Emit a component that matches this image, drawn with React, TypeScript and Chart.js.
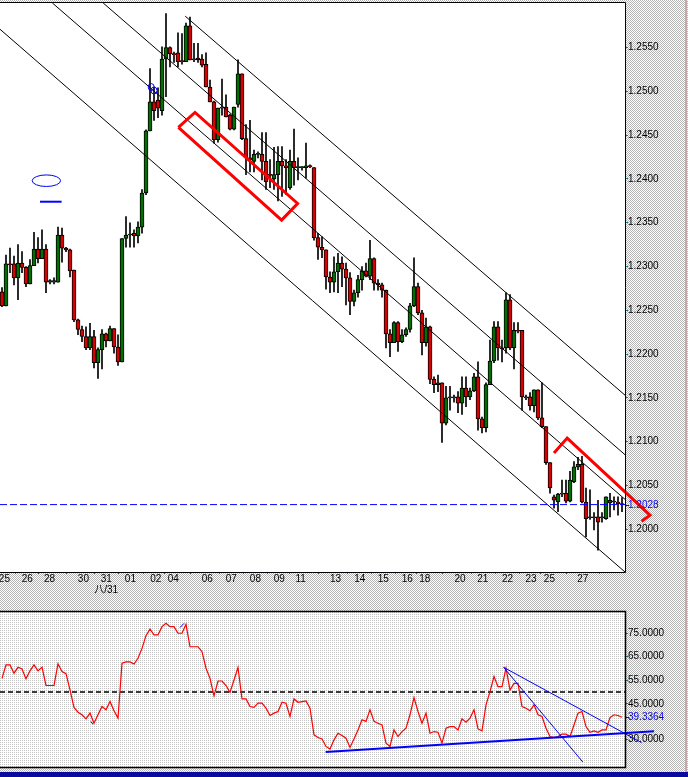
import React, { useEffect, useRef } from 'react';
import { Chart, registerables } from 'chart.js';

Chart.register(...registerables);

// ---------- DATA ----------
const opens = [
  1.2271, 1.2255, 1.2303, 1.2303, 1.2287, 1.2304, 1.2299, 1.2280, 1.2301, 1.2320,
  1.2309, 1.2320, 1.2282, 1.2284, 1.2282, 1.2336, 1.2321, 1.2319, 1.2296, 1.2239,
  1.2228, 1.2220, 1.2207, 1.2220, 1.2190, 1.2205, 1.2223, 1.2215, 1.2229, 1.2208,
  1.2191, 1.2332, 1.2336, 1.2338, 1.2335, 1.2345, 1.2384, 1.2455, 1.2488, 1.2490,
  1.2478, 1.2537, 1.2550, 1.2543, 1.2544, 1.2535, 1.2534, 1.2575, 1.2537, 1.2538,
  1.2537, 1.2531, 1.2505, 1.2488, 1.2445, 1.2482, 1.2482, 1.2473, 1.2457, 1.2485,
  1.2520, 1.2446, 1.2424, 1.2420, 1.2428, 1.2428, 1.2420, 1.2405, 1.2400, 1.2405,
  1.2420, 1.2415, 1.2390, 1.2420, 1.2413, 1.2413, 1.2413, 1.2415, 1.2413, 1.2333,
  1.2322, 1.2319, 1.2288, 1.2282, 1.2294, 1.2304, 1.2297, 1.2287, 1.2260, 1.2270,
  1.2285, 1.2295, 1.2289, 1.2309, 1.2281, 1.2279, 1.2273, 1.2223, 1.2213, 1.2236,
  1.2214, 1.2222, 1.2228, 1.2255, 1.2277, 1.2247, 1.2213, 1.2231, 1.2171, 1.2167,
  1.2167, 1.2121, 1.2151, 1.2151, 1.2151, 1.2144, 1.2161, 1.2151, 1.2158, 1.2174,
  1.2126, 1.2116, 1.2165, 1.2192, 1.2231, 1.2207, 1.2207, 1.2262, 1.2207, 1.2227,
  1.2227, 1.2151, 1.2151, 1.2141, 1.2159, 1.2127, 1.2117, 1.2076, 1.2037, 1.2031,
  1.2040, 1.2041, 1.2032, 1.2054, 1.2071, 1.2074, 1.2031, 1.2014, 1.2014, 1.2014,
  1.2013, 1.2012, 1.2030, 1.2032, 1.2031, 1.2029,
];
const highs = [
  1.2276, 1.2313, 1.2321, 1.2312, 1.2325, 1.2317, 1.2300, 1.2308, 1.2339, 1.2333,
  1.2342, 1.2325, 1.2285, 1.2287, 1.2345, 1.2344, 1.2322, 1.2320, 1.2296, 1.2240,
  1.2232, 1.2231, 1.2235, 1.2227, 1.2207, 1.2228, 1.2224, 1.2232, 1.2229, 1.2222,
  1.2332, 1.2357, 1.2350, 1.2342, 1.2351, 1.2388, 1.2456, 1.2526, 1.2505, 1.2504,
  1.2551, 1.2589, 1.2551, 1.2545, 1.2567, 1.2566, 1.2578, 1.2585, 1.2555, 1.2555,
  1.2542, 1.2544, 1.2513, 1.2489, 1.2481, 1.2514, 1.2496, 1.2474, 1.2482, 1.2536,
  1.2520, 1.2462, 1.2467, 1.2433, 1.2431, 1.2453, 1.2453, 1.2422, 1.2436, 1.2437,
  1.2437, 1.2422, 1.2433, 1.2457, 1.2424, 1.2414, 1.2441, 1.2416, 1.2413, 1.2338,
  1.2334, 1.2319, 1.2294, 1.2311, 1.2315, 1.2311, 1.2304, 1.2293, 1.2273, 1.2290,
  1.2300, 1.2304, 1.2330, 1.2310, 1.2285, 1.2281, 1.2273, 1.2228, 1.2237, 1.2237,
  1.2228, 1.2230, 1.2258, 1.2310, 1.2281, 1.2250, 1.2241, 1.2232, 1.2174, 1.2176,
  1.2167, 1.2163, 1.2163, 1.2153, 1.2157, 1.2174, 1.2174, 1.2161, 1.2178, 1.2191,
  1.2128, 1.2167, 1.2216, 1.2237, 1.2237, 1.2216, 1.2270, 1.2268, 1.2236, 1.2236,
  1.2227, 1.2153, 1.2156, 1.2159, 1.2159, 1.2167, 1.2117, 1.2076, 1.2039, 1.2041,
  1.2056, 1.2056, 1.2066, 1.2077, 1.2082, 1.2083, 1.2047, 1.2045, 1.2019, 1.2033,
  1.2019, 1.2037, 1.2041, 1.2037, 1.2037, 1.2036,
];
const lows = [
  1.2254, 1.2255, 1.2293, 1.2279, 1.2262, 1.2293, 1.2277, 1.2280, 1.2301, 1.2304,
  1.2309, 1.2270, 1.2280, 1.2280, 1.2282, 1.2305, 1.2317, 1.2288, 1.2237, 1.2222,
  1.2214, 1.2205, 1.2205, 1.2184, 1.2172, 1.2183, 1.2208, 1.2215, 1.2201, 1.2187,
  1.2191, 1.2322, 1.2322, 1.2322, 1.2327, 1.2338, 1.2382, 1.2455, 1.2467, 1.2470,
  1.2473, 1.2494, 1.2528, 1.2533, 1.2528, 1.2531, 1.2534, 1.2536, 1.2534, 1.2533,
  1.2528, 1.2505, 1.2488, 1.2441, 1.2442, 1.2473, 1.2471, 1.2456, 1.2456, 1.2482,
  1.2445, 1.2405, 1.2408, 1.2408, 1.2424, 1.2399, 1.2388, 1.2390, 1.2388, 1.2375,
  1.2380, 1.2382, 1.2388, 1.2393, 1.2399, 1.2410, 1.2401, 1.2413, 1.2330, 1.2308,
  1.2310, 1.2274, 1.2270, 1.2271, 1.2270, 1.2277, 1.2256, 1.2245, 1.2255, 1.2265,
  1.2273, 1.2288, 1.2285, 1.2273, 1.2273, 1.2265, 1.2207, 1.2197, 1.2213, 1.2203,
  1.2213, 1.2220, 1.2225, 1.2254, 1.2245, 1.2199, 1.2209, 1.2166, 1.2156, 1.2157,
  1.2099, 1.2119, 1.2136, 1.2145, 1.2133, 1.2131, 1.2140, 1.2148, 1.2157, 1.2113,
  1.2110, 1.2111, 1.2165, 1.2190, 1.2193, 1.2191, 1.2201, 1.2205, 1.2183, 1.2224,
  1.2136, 1.2148, 1.2136, 1.2134, 1.2125, 1.2116, 1.2074, 1.2041, 1.2024, 1.2020,
  1.2037, 1.2030, 1.2031, 1.2053, 1.2068, 1.2030, 1.1991, 1.2011, 1.1999, 1.1976,
  1.2008, 1.2011, 1.2014, 1.2022, 1.2016, 1.2020,
];
const closes = [
  1.2255, 1.2303, 1.2302, 1.2287, 1.2304, 1.2299, 1.2280, 1.2301, 1.2320, 1.2309,
  1.2320, 1.2282, 1.2284, 1.2282, 1.2336, 1.2321, 1.2319, 1.2295, 1.2239, 1.2228,
  1.2220, 1.2207, 1.2220, 1.2190, 1.2205, 1.2223, 1.2215, 1.2229, 1.2208, 1.2191,
  1.2332, 1.2336, 1.2337, 1.2335, 1.2345, 1.2384, 1.2455, 1.2488, 1.2478, 1.2481,
  1.2537, 1.2550, 1.2543, 1.2542, 1.2534, 1.2534, 1.2575, 1.2536, 1.2536, 1.2536,
  1.2530, 1.2505, 1.2488, 1.2445, 1.2481, 1.2481, 1.2471, 1.2457, 1.2482, 1.2520,
  1.2446, 1.2424, 1.2422, 1.2428, 1.2428, 1.2420, 1.2397, 1.2404, 1.2405, 1.2420,
  1.2415, 1.2413, 1.2420, 1.2413, 1.2413, 1.2414, 1.2415, 1.2414, 1.2333, 1.2322,
  1.2319, 1.2288, 1.2282, 1.2294, 1.2304, 1.2297, 1.2287, 1.2260, 1.2270, 1.2285,
  1.2295, 1.2289, 1.2309, 1.2281, 1.2279, 1.2273, 1.2223, 1.2213, 1.2236, 1.2214,
  1.2222, 1.2228, 1.2255, 1.2277, 1.2247, 1.2213, 1.2231, 1.2171, 1.2165, 1.2165,
  1.2121, 1.2150, 1.2150, 1.2150, 1.2144, 1.2161, 1.2151, 1.2158, 1.2174, 1.2126,
  1.2116, 1.2165, 1.2192, 1.2231, 1.2207, 1.2206, 1.2262, 1.2207, 1.2227, 1.2226,
  1.2151, 1.2150, 1.2141, 1.2159, 1.2127, 1.2117, 1.2076, 1.2047, 1.2033, 1.2040,
  1.2041, 1.2032, 1.2056, 1.2071, 1.2074, 1.2031, 1.2012, 1.2013, 1.2013, 1.2008,
  1.2014, 1.2037, 1.2033, 1.2031, 1.2029, 1.2028,
];
const rsiValues = [
  55.8, 61.5, 61.5, 58.0, 60.5, 59.8, 55.6, 59.0, 61.5, 59.0,
  60.6, 52.8, 52.8, 52.8, 62.0, 58.7, 57.8, 50.9, 43.5, 41.5,
  40.4, 38.7, 41.1, 36.8, 40.4, 43.9, 42.5, 46.0, 42.1, 39.0,
  62.2, 62.8, 62.8, 61.9, 64.3, 68.5, 73.9, 76.7, 74.2, 74.2,
  77.7, 79.1, 77.7, 77.7, 74.9, 74.9, 78.7, 69.2, 69.2, 69.2,
  67.1, 60.1, 55.8, 48.4, 54.7, 54.7, 52.8, 49.9, 55.1, 60.4,
  47.1, 47.1, 43.9, 43.5, 45.3, 45.3, 43.2, 40.1, 41.1, 41.8,
  45.7, 45.3, 39.7, 47.1, 45.7, 46.0, 46.3, 43.2, 31.9, 30.8,
  30.2, 27.0, 25.9, 29.8, 32.6, 31.6, 30.5, 26.6, 30.2, 34.0,
  38.3, 37.6, 42.5, 37.6, 36.8, 36.1, 28.4, 27.0, 34.0, 31.2,
  33.3, 34.7, 40.4, 47.7, 41.8, 36.8, 41.1, 32.6, 33.3, 33.0,
  28.4, 34.7, 35.4, 35.4, 34.0, 38.7, 37.3, 39.0, 42.5, 34.4,
  33.6, 44.6, 50.2, 56.6, 52.3, 52.3, 60.1, 50.9, 53.7, 53.7,
  43.9, 43.2, 42.1, 44.6, 40.4, 39.7, 34.7, 31.2, 30.8, 31.2,
  32.2, 32.2, 31.2, 36.1, 41.1, 41.8, 35.4, 33.0, 33.6, 33.0,
  34.0, 34.0, 39.2, 40.4, 40.1, 39.3364,
];
const dateTickIndex = [
  0.6, 6.3, 11.9, 20.35, 26.05, 32.1, 38.45, 42.8, 51.3, 57.3, 63.35, 69.3,
  74.65, 83.4, 89.45, 95.3, 101.3, 105.7, 114.5, 120.2, 126.4, 132.25, 136.85, 145.2,
];
const dateTickLabels: (string | string[])[] = [
  '25', '26', '28', '30', ['31', '八/31'], '01', '02', '04', '06', '07', '08', '09',
  '11', '13', '14', '15', '16', '18', '20', '21', '22', '23', '25', '27',
];
const priceTicks = [1.255, 1.25, 1.245, 1.24, 1.235, 1.23, 1.225, 1.22, 1.215, 1.21, 1.205, 1.2];
const rsiTicks = [75, 65, 55, 45, 30];
const lastPrice = 1.2028;
const lastRsi = 39.3364;
const rsiMidLevel = 50;

// channel lines (index, price)
const channelA = [[45.8, 1.2586], [155.75, 1.2153]];
const channelB = [[25.3, 1.2601], [155.75, 1.2085]];
const channelC = [[12.6, 1.2601], [155.75, 1.2034]];
const channelD = [[-0.5, 1.2571], [155.75, 1.1951]];
// hand-drawn marks (index, price)
const markBox = [[44.1, 1.2459], [48.25, 1.2476], [73.9, 1.2372], [69.9, 1.2353], [44.1, 1.2459]];
const markArrow = [[138.0, 1.2087], [141.3, 1.2104], [162.0, 1.2016], [159.9, 1.2009]];
const markUnderline = [[9.5, 1.2374], [14.9, 1.2374]];
const markEllipse = { center: [11.1, 1.2398], rx: 3.55, ry: 0.00066 };
const markCircles = [[37.3, 1.2505], [38.0, 1.2501]];
// RSI trend lines (index, rsi)
const rsiSupport = [[80.9, 24.6], [163.0, 33.4]];
const rsiDown1 = [[125.4, 60.5], [159.9, 28.6]];
const rsiDown2 = [[125.4, 60.5], [145.2, 20.4]];
const rsiMark1 = [[44.5, 77.3], [45.5, 79.1]];
const rsiMark2 = [[22.2, 37.6], [22.7, 36.4]];

// ---------- STYLE ----------
const FONT = '"Liberation Sans", Arial, "Noto Sans CJK SC", sans-serif';
const GREEN = '#007000';
const RED = '#d80000';
const TEAL = '#008080';
const X_MIN = -0.5;
const X_MAX = 155.75;

const pts = (arr: number[][]) => arr.map(([x, y]) => ({ x, y }));

function makePattern(ctx: CanvasRenderingContext2D, kind: 'checker' | 'dots') {
  const c = document.createElement('canvas');
  c.width = 2;
  c.height = 2;
  const g = c.getContext('2d')!;
  g.fillStyle = '#ffffff';
  g.fillRect(0, 0, 2, 2);
  if (kind === 'checker') {
    g.fillStyle = '#b4b4b4';
    g.fillRect(0, 0, 1, 1);
    g.fillRect(1, 1, 1, 1);
  } else {
    g.fillStyle = '#c4c4c4';
    g.fillRect(0, 0, 1, 1);
  }
  return ctx.createPattern(c, 'repeat')!;
}

const lineDs = (data: number[][], color: string, width: number, order: number, extra: any = {}) => ({
  type: 'line' as const,
  data: pts(data),
  borderColor: color,
  borderWidth: width,
  pointRadius: 0,
  tension: 0,
  fill: false,
  order,
  ...extra,
});

export default function App() {
  const mainRef = useRef<HTMLCanvasElement>(null);
  const rsiRef = useRef<HTMLCanvasElement>(null);

  useEffect(() => {
    const idx = opens.map((_, i) => i);
    const bodyColors = opens.map((o, i) => (closes[i] >= o ? GREEN : RED));

    const mainPlugin = {
      id: 'mainDecor',
      beforeDraw(chart: any) {
        const { ctx, chartArea: a, width, height } = chart;
        ctx.save();
        ctx.fillStyle = makePattern(ctx, 'checker');
        ctx.fillRect(0, 0, width, height);
        ctx.fillStyle = '#ffffff';
        ctx.fillRect(a.left, a.top, a.right - a.left, a.bottom - a.top);
        ctx.restore();
      },
      afterDatasetsDraw(chart: any) {
        const { ctx } = chart;
        const xs = chart.scales.x;
        const ys = chart.scales.y;
        ctx.save();
        ctx.strokeStyle = '#0000ff';
        ctx.lineWidth = 1;
        const cx = xs.getPixelForValue(markEllipse.center[0]);
        const cy = ys.getPixelForValue(markEllipse.center[1]);
        const rx = Math.abs(xs.getPixelForValue(markEllipse.center[0] + markEllipse.rx) - cx);
        const ry = Math.abs(ys.getPixelForValue(markEllipse.center[1] + markEllipse.ry) - cy);
        ctx.beginPath();
        ctx.ellipse(cx, cy, rx, ry, 0, 0, Math.PI * 2);
        ctx.stroke();
        markCircles.forEach(([x, y]) => {
          ctx.beginPath();
          ctx.ellipse(xs.getPixelForValue(x), ys.getPixelForValue(y), 3, 3.5, 0, 0, Math.PI * 2);
          ctx.stroke();
        });
        ctx.restore();
      },
      afterDraw(chart: any) {
        const { ctx, chartArea: a } = chart;
        const ys = chart.scales.y;
        ctx.save();
        ctx.strokeStyle = '#000';
        ctx.lineWidth = 1;
        ctx.beginPath();
        ctx.moveTo(0, a.top - 0.5);
        ctx.lineTo(a.right + 0.5, a.top - 0.5);
        ctx.lineTo(a.right + 0.5, a.bottom + 0.5);
        ctx.lineTo(0, a.bottom + 0.5);
        ctx.stroke();
        const py = Math.round(ys.getPixelForValue(lastPrice)) + 0.5;
        ctx.strokeStyle = '#0000ff';
        ctx.beginPath();
        ctx.moveTo(a.right + 1, py);
        ctx.lineTo(a.right + 4, py);
        ctx.stroke();
        ctx.fillStyle = '#0000ff';
        ctx.font = `10px ${FONT}`;
        ctx.textBaseline = 'middle';
        ctx.textAlign = 'left';
        ctx.fillText(lastPrice.toFixed(4), a.right + 3, py);
        ctx.restore();
      },
    };

    const main = new Chart(mainRef.current!, {
      type: 'bar',
      data: {
        datasets: [
          {
            type: 'bar',
            data: idx.map((i) => ({ x: i, y: [lows[i], highs[i]] })),
            backgroundColor: '#000',
            barThickness: 1,
            grouped: false,
            order: 5,
          } as any,
          {
            type: 'bar',
            data: idx.map((i) => ({ x: i, y: [opens[i], closes[i]] })),
            backgroundColor: bodyColors,
            borderColor: '#000',
            borderWidth: 1,
            borderSkipped: false,
            barThickness: 4,
            minBarLength: 1,
            grouped: false,
            order: 4,
          } as any,
          lineDs(channelA, '#000', 1, 3),
          lineDs(channelB, '#000', 1, 3),
          lineDs(channelC, '#000', 1, 3),
          lineDs(channelD, '#000', 1, 3),
          lineDs([[X_MIN, lastPrice], [X_MAX, lastPrice]], '#0000ff', 1, 2, { borderDash: [7, 3] }),
          lineDs(markBox, '#ff0000', 3, 1, { borderJoinStyle: 'miter' }),
          lineDs(markArrow, '#ff0000', 3, 1, { clip: false, borderJoinStyle: 'miter' }),
          lineDs(markUnderline, '#0000ff', 2, 1),
        ],
      },
      options: {
        animation: false,
        responsive: false,
        events: [],
        layout: { padding: { top: 3, left: 0, right: 0, bottom: 0 } },
        plugins: { legend: { display: false }, tooltip: { enabled: false } },
        scales: {
          x: {
            type: 'linear',
            min: X_MIN,
            max: X_MAX,
            offset: false,
            afterBuildTicks: (s: any) => {
              s.ticks = dateTickIndex.map((v) => ({ value: v }));
            },
            afterFit: (s: any) => {
              s.height = 28;
              s.paddingLeft = 0;
              s.paddingRight = 0;
            },
            ticks: {
              autoSkip: false,
              maxRotation: 0,
              minRotation: 0,
              padding: 0,
              color: '#000',
              font: { family: FONT, size: 10, lineHeight: 1.1 },
              callback: (_v: any, i: number) => dateTickLabels[i],
            },
            grid: { drawOnChartArea: false, drawTicks: true, tickLength: 2, color: TEAL, tickColor: TEAL },
            border: { display: false },
          },
          y: {
            type: 'linear',
            position: 'right',
            min: 1.1951,
            max: 1.2601,
            beginAtZero: false,
            afterBuildTicks: (s: any) => {
              s.ticks = priceTicks.map((v) => ({ value: v }));
            },
            afterFit: (s: any) => {
              s.width = 63;
              s.paddingTop = 0;
              s.paddingBottom = 0;
            },
            ticks: {
              padding: 0,
              color: '#000',
              font: { family: FONT, size: 10 },
              callback: (v: any) => Number(v).toFixed(4),
            },
            grid: { drawOnChartArea: false, drawTicks: true, tickLength: 3, color: TEAL, tickColor: TEAL },
            border: { display: false },
          },
        },
      } as any,
      plugins: [mainPlugin],
    });

    const rsiPlugin = {
      id: 'rsiDecor',
      beforeDraw(chart: any) {
        const { ctx, chartArea: a, width, height } = chart;
        ctx.save();
        ctx.fillStyle = makePattern(ctx, 'checker');
        ctx.fillRect(0, 0, width, height);
        ctx.fillStyle = '#ffffff';
        ctx.fillRect(a.left, a.top, a.right - a.left, a.bottom - a.top);
        ctx.fillStyle = makePattern(ctx, 'dots');
        ctx.fillRect(a.left, a.top, a.right - a.left, a.bottom - a.top);
        ctx.restore();
      },
      afterDraw(chart: any) {
        const { ctx, chartArea: a } = chart;
        const ys = chart.scales.y;
        ctx.save();
        ctx.strokeStyle = '#000';
        ctx.lineWidth = 1.5;
        ctx.beginPath();
        ctx.moveTo(0, a.top - 0.5);
        ctx.lineTo(a.right + 0.5, a.top - 0.5);
        ctx.lineTo(a.right + 0.5, a.bottom + 0.5);
        ctx.lineTo(0, a.bottom + 0.5);
        ctx.stroke();
        const py = Math.round(ys.getPixelForValue(lastRsi)) + 0.5;
        ctx.strokeStyle = '#0000ff';
        ctx.lineWidth = 1;
        ctx.beginPath();
        ctx.moveTo(a.right + 1, py);
        ctx.lineTo(a.right + 4, py);
        ctx.stroke();
        ctx.fillStyle = '#0000ff';
        ctx.font = `10px ${FONT}`;
        ctx.textBaseline = 'middle';
        ctx.textAlign = 'left';
        ctx.fillText(lastRsi.toFixed(4), a.right + 3, py);
        ctx.restore();
      },
    };

    const rsi = new Chart(rsiRef.current!, {
      type: 'line',
      data: {
        datasets: [
          lineDs([[X_MIN, rsiMidLevel], [X_MAX, rsiMidLevel]], '#000', 1.5, 4, { borderDash: [5, 3] }),
          {
            type: 'line',
            data: rsiValues.map((v, i) => ({ x: i, y: v })),
            borderColor: '#ff0000',
            borderWidth: 1.2,
            pointRadius: 0,
            tension: 0,
            fill: false,
            order: 3,
          } as any,
          lineDs(rsiSupport, '#0000ff', 2, 2, { clip: false }),
          lineDs(rsiDown1, '#0000ff', 1, 2, { clip: false }),
          lineDs(rsiDown2, '#0000ff', 1, 2, { clip: false }),
          lineDs(rsiMark1, '#0000ff', 1, 1),
          lineDs(rsiMark2, '#0000ff', 1, 1),
        ],
      },
      options: {
        animation: false,
        responsive: false,
        events: [],
        layout: { padding: { top: 12, left: 0, right: 0, bottom: 10 } },
        plugins: { legend: { display: false }, tooltip: { enabled: false } },
        scales: {
          x: { type: 'linear', min: X_MIN, max: X_MAX, display: false },
          y: {
            type: 'linear',
            position: 'right',
            min: 18.3,
            max: 83.9,
            afterBuildTicks: (s: any) => {
              s.ticks = rsiTicks.map((v) => ({ value: v }));
            },
            afterFit: (s: any) => {
              s.width = 63;
              s.paddingTop = 0;
              s.paddingBottom = 0;
            },
            ticks: {
              padding: 0,
              color: '#000',
              font: { family: FONT, size: 10 },
              callback: (v: any) => Number(v).toFixed(4),
            },
            grid: { drawOnChartArea: false, drawTicks: true, tickLength: 3, color: TEAL, tickColor: TEAL },
            border: { display: false },
          },
        },
      } as any,
      plugins: [rsiPlugin],
    });

    return () => {
      main.destroy();
      rsi.destroy();
    };
  }, []);

  return (
    <div style={{ position: 'absolute', left: 0, top: 0, width: 688, height: 777, overflow: 'hidden' }}>
      <canvas ref={mainRef} width={688} height={600} style={{ position: 'absolute', left: 0, top: 0, width: 688, height: 600 }} />
      <canvas ref={rsiRef} width={688} height={177} style={{ position: 'absolute', left: 0, top: 600, width: 688, height: 177 }} />
      <div style={{ position: 'absolute', left: 685, top: 0, width: 2, height: 772, background: '#c8a8a8' }} />
      <div style={{ position: 'absolute', left: 0, top: 772, width: 688, height: 5, background: '#0a0a9e' }} />
    </div>
  );
}
